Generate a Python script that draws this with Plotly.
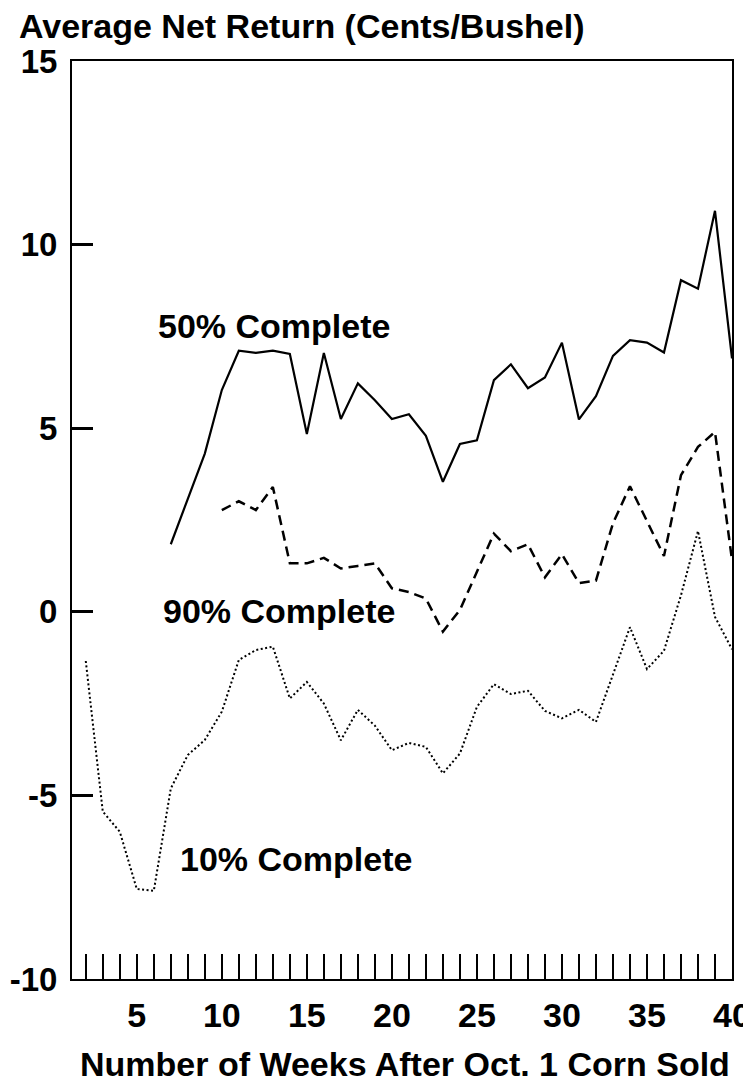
import plotly.graph_objects as go

# Weeks after Oct. 1 in which corn was sold
weeks_10 = list(range(2, 41))
vals_10 = [-1.34, -5.44, -5.99, -7.55, -7.60, -4.81, -3.90, -3.49, -2.72, -1.31,
           -1.04, -0.95, -2.36, -1.91, -2.50, -3.50, -2.67, -3.10, -3.77, -3.57,
           -3.68, -4.40, -3.86, -2.59, -1.97, -2.24, -2.15, -2.70, -2.90, -2.67,
           -3.00, -1.70, -0.42, -1.56, -1.06, 0.45, 2.20, -0.14, -1.02]

weeks_50 = list(range(7, 41))
vals_50 = [1.84, 3.07, 4.31, 6.04, 7.11, 7.05, 7.11, 7.02, 4.84, 7.05,
           5.25, 6.22, 5.76, 5.25, 5.38, 4.79, 3.54, 4.57, 4.67, 6.31,
           6.74, 6.09, 6.38, 7.33, 5.24, 5.87, 6.97, 7.40, 7.33, 7.06,
           9.03, 8.80, 10.92, 6.90]

weeks_90 = list(range(10, 41))
vals_90 = [2.77, 3.01, 2.77, 3.40, 1.32, 1.32, 1.47, 1.18, 1.25, 1.32,
           0.64, 0.54, 0.36, -0.54, 0.05, 1.09, 2.13, 1.65, 1.84, 0.94,
           1.57, 0.78, 0.85, 2.41, 3.42, 2.47, 1.52, 3.72, 4.49, 4.90, 1.41]

x_tickvals = [5, 10, 15, 20, 25, 30, 35, 40]
x_ticktext = ["5", "10", "15", "20", "25", "30", "35", "40"]
y_tickvals = [-10, -5, 0, 5, 10, 15]
y_ticktext = ["-10", "-5", "0", "5", "10", "15"]

labels = ["50% Complete", "90% Complete", "10% Complete"]
label_x = [6.1, 6.4, 7.45]
label_y = [7.78, 0.03, -6.72]

FONT = "Liberation Sans, Arial, sans-serif"
FS = 34

fig = go.Figure()
fig.add_trace(go.Scatter(x=weeks_50, y=vals_50, mode="lines",
                         line=dict(color="black", width=2.2)))
fig.add_trace(go.Scatter(x=weeks_90, y=vals_90, mode="lines",
                         line=dict(color="black", width=2.5, dash="10px,6px")))
fig.add_trace(go.Scatter(x=weeks_10, y=vals_10, mode="lines",
                         line=dict(color="black", width=2, dash="2px,2.5px")))

for t, xx, yy in zip(labels, label_x, label_y):
    fig.add_annotation(x=xx, y=yy, text=t, showarrow=False, xanchor="left",
                       yanchor="middle",
                       font=dict(family=FONT, size=FS, color="black", weight="bold"))

fig.add_annotation(x=0.504, y=-0.0925, xref="paper", yref="paper",
                   text="Number of Weeks After Oct. 1 Corn Sold", showarrow=False,
                   xanchor="center", yanchor="middle",
                   font=dict(family=FONT, size=FS, color="black", weight="bold"))

# The page body has an 8px default margin, so the figure is sized to fit the window.
fig.update_layout(
    width=743, height=1079,
    margin=dict(l=64, r=19, t=53, b=108, autoexpand=False),
    paper_bgcolor="white", plot_bgcolor="white",
    showlegend=False,
    title=dict(text="Average Net Return (Cents/Bushel)", x=0.0148, xanchor="left",
               y=0.9835, yanchor="middle", xref="container", yref="container",
               font=dict(family=FONT, size=FS, color="black", weight="bold")),
)

fig.update_xaxes(
    range=[1.19, 40], showgrid=False, zeroline=False, automargin=False,
    showline=True, linecolor="black", linewidth=2, mirror=True,
    tickmode="array", tickvals=x_tickvals, ticktext=x_ticktext,
    ticks="inside", ticklen=25, tickwidth=2, tickcolor="black",
    minor=dict(dtick=1, tick0=0, ticks="inside", ticklen=25, tickwidth=2,
               tickcolor="black", showgrid=False),
    tickfont=dict(family=FONT, size=FS, color="black", weight="bold"),
    ticklabelstandoff=5,
)
fig.update_yaxes(
    range=[-10, 15], showgrid=False, zeroline=False, automargin=False,
    showline=True, linecolor="black", linewidth=2, mirror=True,
    tickmode="array", tickvals=y_tickvals, ticktext=y_ticktext,
    ticks="inside", ticklen=21, tickwidth=3, tickcolor="black",
    tickfont=dict(family=FONT, size=33, color="black", weight="bold"),
    ticklabelstandoff=6,
)

fig.write_html("out.html")
